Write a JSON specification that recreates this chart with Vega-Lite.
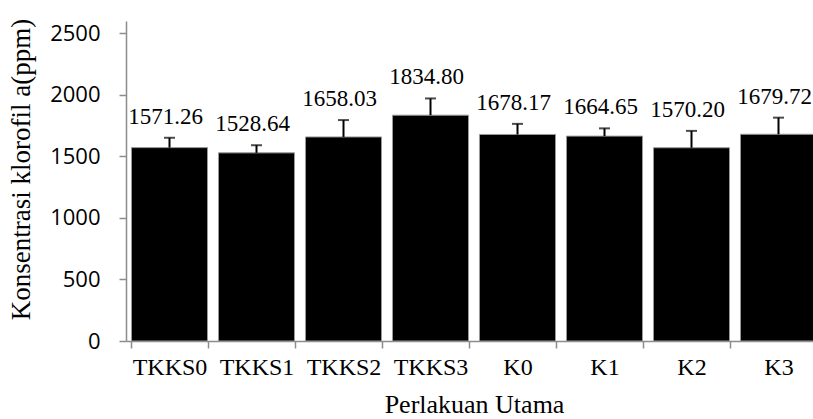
{
  "$schema": "https://vega.github.io/schema/vega-lite/v6.json",
  "width": 696,
  "height": 320,
  "autosize": "none",
  "padding": {"left": 126, "top": 21, "right": 0, "bottom": 78},
  "background": "white",
  "config": {"view": {"stroke": null}},
  "data": {
    "values": [
      {"perlakuan": "TKKS0", "mean": 1571.26, "err": 80},
      {"perlakuan": "TKKS1", "mean": 1528.64, "err": 62},
      {"perlakuan": "TKKS2", "mean": 1658.03, "err": 137},
      {"perlakuan": "TKKS3", "mean": 1834.80, "err": 136},
      {"perlakuan": "K0", "mean": 1678.17, "err": 86},
      {"perlakuan": "K1", "mean": 1664.65, "err": 63},
      {"perlakuan": "K2", "mean": 1570.20, "err": 137},
      {"perlakuan": "K3", "mean": 1679.72, "err": 135}
    ]
  },
  "transform": [{"calculate": "datum.mean + datum.err", "as": "upper"}],
  "encoding": {
    "x": {
      "field": "perlakuan",
      "type": "nominal",
      "sort": null,
      "scale": {"paddingInner": 0.126, "paddingOuter": 0.063},
      "axis": {
        "title": "Perlakuan Utama",
        "labelAngle": 0,
        "tickBand": "extent",
        "tickSize": 7,
        "tickColor": "#8c8c8c",
        "domainColor": "#8c8c8c",
        "domainWidth": 1.5,
        "tickWidth": 1.5,
        "labelFont": "Liberation Serif",
        "labelFontSize": 24,
        "labelColor": "black",
        "labelPadding": 7,
        "titleFont": "Liberation Serif",
        "titleFontSize": 26,
        "titleFontWeight": "normal",
        "titleColor": "black",
        "titlePadding": 12
      }
    }
  },
  "layer": [
    {
      "mark": {"type": "bar", "color": "black", "stroke": "#9a9a9a", "strokeWidth": 1},
      "encoding": {
        "y": {
          "field": "mean",
          "type": "quantitative",
          "scale": {"domain": [0, 2500]},
          "axis": {
            "title": "Konsentrasi klorofil a(ppm)",
            "values": [0, 500, 1000, 1500, 2000, 2500],
            "format": "d",
            "grid": false,
            "tickSize": 7,
            "tickColor": "#8c8c8c",
            "domainColor": "#8c8c8c",
            "domainWidth": 1.5,
            "tickWidth": 1.5,
            "labelFont": "Open Sans",
            "labelFontSize": 22,
            "labelColor": "black",
            "labelPadding": 19,
            "titleFont": "Liberation Serif",
            "titleFontSize": 27,
            "titleFontWeight": "normal",
            "titleColor": "black",
            "titlePadding": 14,
            "titleY": 148
          }
        }
      }
    },
    {
      "mark": {"type": "rule", "color": "black", "strokeWidth": 2},
      "encoding": {
        "y": {"field": "mean", "type": "quantitative"},
        "y2": {"field": "upper"}
      }
    },
    {
      "mark": {"type": "tick", "color": "black", "thickness": 2, "size": 11},
      "encoding": {
        "y": {"field": "upper", "type": "quantitative"}
      }
    },
    {
      "mark": {"type": "text", "font": "Liberation Serif", "fontSize": 23, "color": "black", "baseline": "alphabetic", "dy": -14, "dx": -4},
      "encoding": {
        "y": {"field": "upper", "type": "quantitative"},
        "text": {"field": "mean", "type": "quantitative", "format": ".2f"}
      }
    }
  ]
}
